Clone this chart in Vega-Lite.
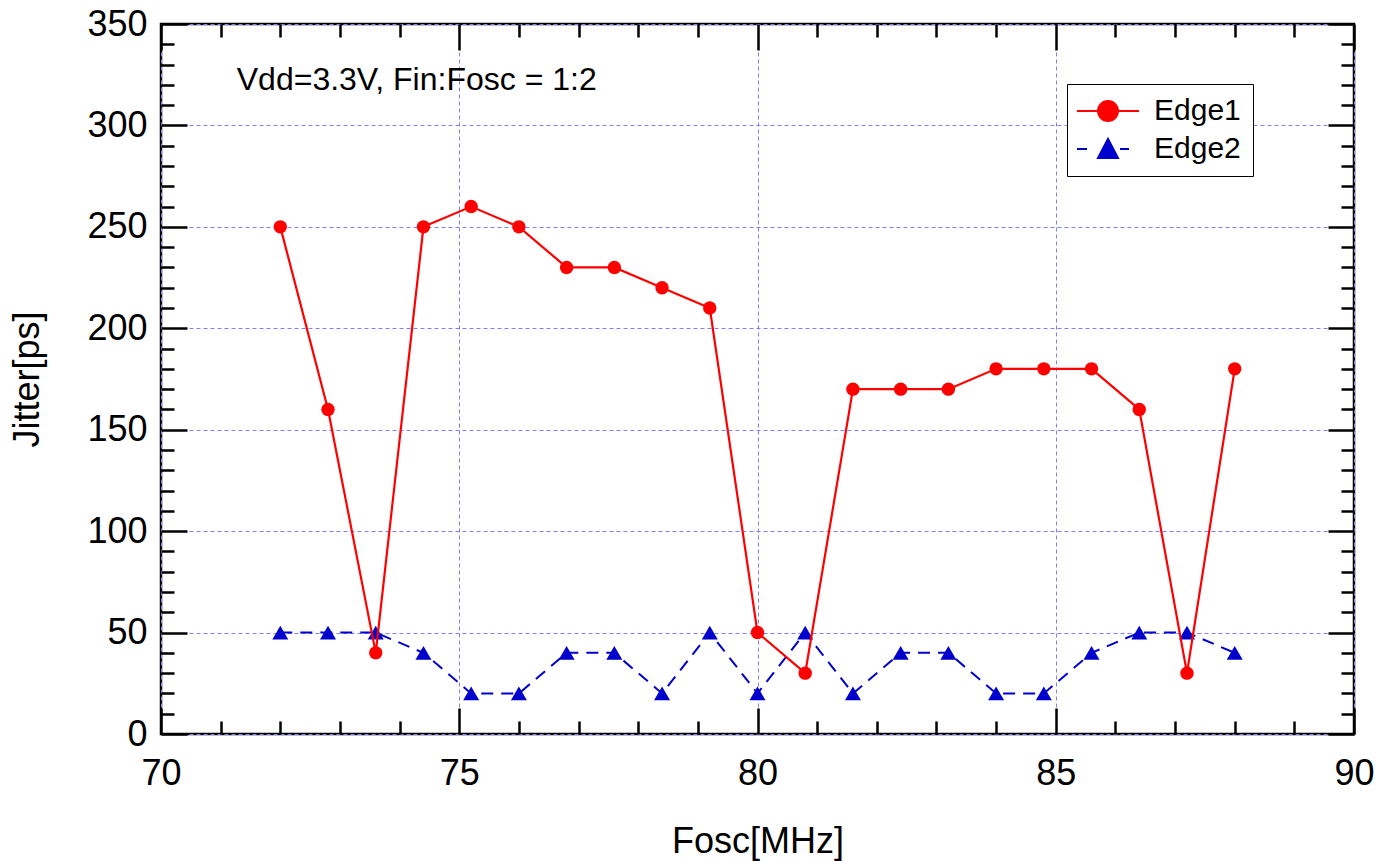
{
  "$schema": "https://vega.github.io/schema/vega-lite/v6.json",
  "width": 1193,
  "height": 710,
  "autosize": {"type": "none"},
  "padding": {"left": 161, "top": 24, "right": 37, "bottom": 127},
  "background": "white",
  "config": {
    "view": {"stroke": "black", "strokeWidth": 2.5},
    "font": "Liberation Sans",
    "axis": {
      "domain": false,
      "tickColor": "black",
      "tickWidth": 2.5,
      "labelFont": "Liberation Sans",
      "labelFontSize": 36,
      "labelColor": "black",
      "labelFlush": false,
      "labelOverlap": false,
      "labelBound": false,
      "titleFont": "Liberation Sans",
      "titleFontSize": 36,
      "titleFontWeight": "normal",
      "titleColor": "black",
      "gridColor": "#8080ff",
      "gridDash": [4, 3],
      "gridWidth": 1
    }
  },
  "datasets": {
    "jitter": [
      {"x": 72.0, "jitter": 250, "series": "Edge1"},
      {"x": 72.8, "jitter": 160, "series": "Edge1"},
      {"x": 73.6, "jitter": 40, "series": "Edge1"},
      {"x": 74.4, "jitter": 250, "series": "Edge1"},
      {"x": 75.2, "jitter": 260, "series": "Edge1"},
      {"x": 76.0, "jitter": 250, "series": "Edge1"},
      {"x": 76.8, "jitter": 230, "series": "Edge1"},
      {"x": 77.6, "jitter": 230, "series": "Edge1"},
      {"x": 78.4, "jitter": 220, "series": "Edge1"},
      {"x": 79.2, "jitter": 210, "series": "Edge1"},
      {"x": 80.0, "jitter": 50, "series": "Edge1"},
      {"x": 80.8, "jitter": 30, "series": "Edge1"},
      {"x": 81.6, "jitter": 170, "series": "Edge1"},
      {"x": 82.4, "jitter": 170, "series": "Edge1"},
      {"x": 83.2, "jitter": 170, "series": "Edge1"},
      {"x": 84.0, "jitter": 180, "series": "Edge1"},
      {"x": 84.8, "jitter": 180, "series": "Edge1"},
      {"x": 85.6, "jitter": 180, "series": "Edge1"},
      {"x": 86.4, "jitter": 160, "series": "Edge1"},
      {"x": 87.2, "jitter": 30, "series": "Edge1"},
      {"x": 88.0, "jitter": 180, "series": "Edge1"},
      {"x": 72.0, "jitter": 50, "series": "Edge2"},
      {"x": 72.8, "jitter": 50, "series": "Edge2"},
      {"x": 73.6, "jitter": 50, "series": "Edge2"},
      {"x": 74.4, "jitter": 40, "series": "Edge2"},
      {"x": 75.2, "jitter": 20, "series": "Edge2"},
      {"x": 76.0, "jitter": 20, "series": "Edge2"},
      {"x": 76.8, "jitter": 40, "series": "Edge2"},
      {"x": 77.6, "jitter": 40, "series": "Edge2"},
      {"x": 78.4, "jitter": 20, "series": "Edge2"},
      {"x": 79.2, "jitter": 50, "series": "Edge2"},
      {"x": 80.0, "jitter": 20, "series": "Edge2"},
      {"x": 80.8, "jitter": 50, "series": "Edge2"},
      {"x": 81.6, "jitter": 20, "series": "Edge2"},
      {"x": 82.4, "jitter": 40, "series": "Edge2"},
      {"x": 83.2, "jitter": 40, "series": "Edge2"},
      {"x": 84.0, "jitter": 20, "series": "Edge2"},
      {"x": 84.8, "jitter": 20, "series": "Edge2"},
      {"x": 85.6, "jitter": 40, "series": "Edge2"},
      {"x": 86.4, "jitter": 50, "series": "Edge2"},
      {"x": 87.2, "jitter": 50, "series": "Edge2"},
      {"x": 88.0, "jitter": 40, "series": "Edge2"}
    ],
    "note": [
      {"note": "Vdd=3.3V, Fin:Fosc = 1:2"}
    ]
  },
  "layer": [
    {
      "data": {"name": "jitter"},
      "transform": [{"filter": "datum.series === 'Edge2'"}],
      "mark": {"type": "line", "color": "#0000cc", "strokeWidth": 2, "strokeDash": [12, 8]},
      "encoding": {
        "x": {"field": "x", "type": "quantitative", "scale": {"domain": [70, 90], "nice": false},
          "axis": {"orient": "bottom", "values": [70, 75, 80, 85, 90], "tickSize": -26, "labelPadding": 48, "grid": true,
            "title": "Fosc[MHz]", "titleY": 118, "titleBaseline": "alphabetic"}},
        "y": {"field": "jitter", "type": "quantitative", "scale": {"domain": [0, 350], "nice": false},
          "axis": {"orient": "left", "values": [0, 50, 100, 150, 200, 250, 300, 350], "tickSize": -26, "labelPadding": 40, "grid": true,
            "title": "Jitter[ps]", "titleX": -123, "titleBaseline": "alphabetic"}}
      }
    },
    {
      "data": {"name": "jitter"},
      "transform": [{"filter": "datum.series === 'Edge2'"}],
      "mark": {"type": "point", "shape": "triangle-up", "filled": true, "color": "#0000cc", "size": 256, "opacity": 1},
      "encoding": {
        "x": {"field": "x", "type": "quantitative", "scale": {"domain": [70, 90], "nice": false},
          "axis": {"orient": "top", "values": [70, 75, 80, 85, 90], "tickSize": -26, "labels": false, "grid": false, "title": null}},
        "y": {"field": "jitter", "type": "quantitative", "scale": {"domain": [0, 350], "nice": false},
          "axis": {"orient": "right", "values": [0, 50, 100, 150, 200, 250, 300, 350], "tickSize": -26, "labels": false, "grid": false, "title": null}}
      }
    },
    {
      "data": {"name": "jitter"},
      "transform": [{"filter": "datum.series === 'Edge1'"}],
      "mark": {"type": "line", "color": "#ff0000", "strokeWidth": 2.2},
      "encoding": {
        "x": {"field": "x", "type": "quantitative", "scale": {"domain": [70, 90], "nice": false},
          "axis": {"orient": "bottom", "values": [71, 72, 73, 74, 76, 77, 78, 79, 81, 82, 83, 84, 86, 87, 88, 89], "tickSize": -13, "labels": false, "grid": false, "title": null}},
        "y": {"field": "jitter", "type": "quantitative", "scale": {"domain": [0, 350], "nice": false},
          "axis": {"orient": "left", "values": [10, 20, 30, 40, 60, 70, 80, 90, 110, 120, 130, 140, 160, 170, 180, 190, 210, 220, 230, 240, 260, 270, 280, 290, 310, 320, 330, 340], "tickSize": -13, "labels": false, "grid": false, "title": null}}
      }
    },
    {
      "data": {"name": "jitter"},
      "transform": [{"filter": "datum.series === 'Edge1'"}],
      "mark": {"type": "point", "shape": "circle", "filled": true, "color": "#ff0000", "size": 180, "opacity": 1},
      "encoding": {
        "x": {"field": "x", "type": "quantitative", "scale": {"domain": [70, 90], "nice": false},
          "axis": {"orient": "top", "values": [71, 72, 73, 74, 76, 77, 78, 79, 81, 82, 83, 84, 86, 87, 88, 89], "tickSize": -13, "labels": false, "grid": false, "title": null}},
        "y": {"field": "jitter", "type": "quantitative", "scale": {"domain": [0, 350], "nice": false},
          "axis": {"orient": "right", "values": [10, 20, 30, 40, 60, 70, 80, 90, 110, 120, 130, 140, 160, 170, 180, 190, 210, 220, 230, 240, 260, 270, 280, 290, 310, 320, 330, 340], "tickSize": -13, "labels": false, "grid": false, "title": null}}
      }
    },
    {
      "data": {"name": "jitter"},
      "transform": [{"filter": "false"}],
      "mark": {"type": "point", "filled": true, "size": 400, "strokeWidth": 2, "opacity": 1},
      "encoding": {
        "x": {"field": "x", "type": "quantitative", "scale": {"domain": [70, 90], "nice": false}, "axis": null},
        "y": {"field": "jitter", "type": "quantitative", "scale": {"domain": [0, 350], "nice": false}, "axis": null},
        "color": {"field": "series", "type": "nominal",
          "scale": {"domain": ["Edge1", "Edge2"], "range": ["#ff0000", "#0000cc"]},
          "legend": {
            "orient": "none", "legendX": 906, "legendY": 60, "title": null,
            "padding": 12, "rowPadding": 8,
            "strokeColor": "black", "fillColor": "white",
            "labelFont": "Liberation Sans", "labelFontSize": 30, "labelColor": "black",
            "symbolSize": 400, "symbolOffset": 14, "labelOffset": 31, "symbolStrokeWidth": 2,
            "encode": {"legend": {"update": {"stroke": {"value": "black"}, "strokeWidth": {"value": 2}}}}
          }
        },
        "stroke": {"field": "series", "type": "nominal",
          "scale": {"domain": ["Edge1", "Edge2"], "range": ["#ff0000", "#0000cc"]},
          "legend": {
            "orient": "none", "legendX": 906, "legendY": 60, "title": null,
            "padding": 12, "rowPadding": 8,
            "strokeColor": "black", "fillColor": "white",
            "labelFont": "Liberation Sans", "labelFontSize": 30, "labelColor": "black",
            "symbolSize": 400, "symbolOffset": 14, "labelOffset": 31, "symbolStrokeWidth": 2,
            "encode": {"legend": {"update": {"stroke": {"value": "black"}, "strokeWidth": {"value": 2}}}}
          }
        },
        "shape": {"field": "series", "type": "nominal",
          "scale": {"domain": ["Edge1", "Edge2"], "range": ["M-3.1,0L3.1,0M-1,0A1,1,0,1,1,1,0A1,1,0,1,1,-1,0Z", "M-3.1,0L-2.1,0M-1,0.9L0,-1L1,0.9ZM1.2,0L2.1,0"]},
          "legend": {
            "orient": "none", "legendX": 906, "legendY": 60, "title": null,
            "padding": 12, "rowPadding": 8,
            "strokeColor": "black", "fillColor": "white",
            "labelFont": "Liberation Sans", "labelFontSize": 30, "labelColor": "black",
            "symbolSize": 400, "symbolOffset": 14, "labelOffset": 31, "symbolStrokeWidth": 2,
            "encode": {"legend": {"update": {"stroke": {"value": "black"}, "strokeWidth": {"value": 2}}}}
          }
        }
      }
    },
    {
      "data": {"name": "note"},
      "mark": {"type": "text", "align": "left", "baseline": "alphabetic", "font": "Liberation Sans", "fontSize": 32, "color": "black"},
      "encoding": {
        "text": {"field": "note", "type": "nominal"},
        "x": {"datum": 71.27, "type": "quantitative", "axis": null},
        "y": {"datum": 317.5, "type": "quantitative", "axis": null}
      }
    }
  ],
  "resolve": {"axis": {"x": "independent", "y": "independent"}}
}
